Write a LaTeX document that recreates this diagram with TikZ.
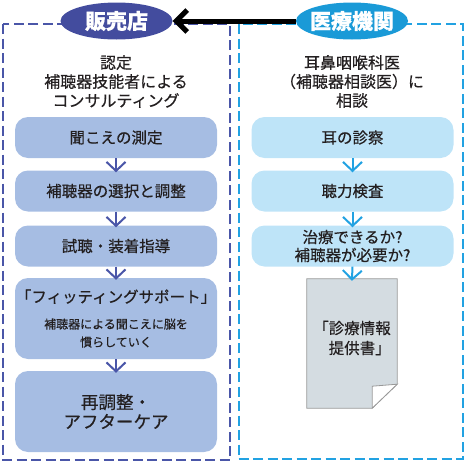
\documentclass[tikz,border=0pt]{standalone}
\usepackage{fontspec}
\setmainfont{Noto Sans CJK JP}[FakeBold=0.5]
\usetikzlibrary{shapes.geometric,arrows.meta}
\definecolor{shopblue}{HTML}{434C9E}
\definecolor{shopline}{HTML}{4A56A8}
\definecolor{shopfill}{HTML}{A6BDE3}
\definecolor{clinicblue}{HTML}{1A9AD7}
\definecolor{clinicline}{HTML}{22A2E2}
\definecolor{clinicfill}{HTML}{BEE4F8}
\definecolor{docfill}{HTML}{D4DCE1}
\definecolor{inktext}{HTML}{231F20}
\newcommand{\smallnote}{\fontsize{12}{15}\selectfont}
\tikzset{
  headnode/.style={ellipse, minimum width=112pt, minimum height=37pt, inner xsep=-3pt, inner ysep=0pt,
    text=white, font=\fontsize{21}{24}\selectfont\bfseries},
  boxframe/.style={line width=2pt, dash pattern=on 10pt off 4.5pt},
  stepbox/.style={rounded corners=13pt, minimum width=202pt, minimum height=41pt, inner sep=0pt,
    text=inktext, align=center, font=\fontsize{15.5}{18}\selectfont},
  notetext/.style={text=inktext, align=center, font=\fontsize{16}{19}\selectfont},
  flowarrow/.style={line width=2pt, shorten >=-2pt, -{Straight Barb[length=9pt,width=19pt]}},
}
\begin{document}
\begin{tikzpicture}[x=1pt,y=-1pt]
  \useasboundingbox (0,0) rectangle (467,461);

  % frames
  \draw[boxframe, shopline] (3,24) rectangle (230,460);
  \draw[boxframe, clinicline] (238.5,24) rectangle (463,459);

  \node[headnode, fill=shopblue] (shop) at (116.5,21) {販売店};
  \node[headnode, fill=clinicblue] (clinic) at (352,21) {医療機関};
  \draw[line width=5pt, -{Straight Barb[length=11pt,width=22pt]}] (clinic.west) -- (shop.east);

  \node[notetext] (shopnote) at (116,81.5) {認定\\補聴器技能者による\\コンサルティング};
  \node[notetext] (clinicnote) at (352,81.5) {耳鼻咽喉科医\\（補聴器相談医）に\\相談};

  % left column
  \node[stepbox, fill=shopfill] (s1) at (116,137.5) {聞こえの測定};
  \node[stepbox, fill=shopfill] (s2) at (116,191) {補聴器の選択と調整};
  \node[stepbox, fill=shopfill] (s3) at (116,246) {試聴・装着指導};
  \node[stepbox, fill=shopfill, minimum height=81pt] (s4) at (116,318.5)
    {「フィッティングサポート」\\[8pt]\smallnote 補聴器による聞こえに脳を\\\smallnote 慣らしていく};
  \node[stepbox, fill=shopfill, minimum height=81pt, font=\fontsize{17.5}{19.5}\selectfont] (s5) at (116,411.5)
    {再調整・\\アフターケア};
  \foreach \a/\b in {s1/s2, s2/s3, s3/s4, s4/s5}
    \draw[flowarrow, shopline] (\a.south) -- (\b.north);

  % right column
  \node[stepbox, fill=clinicfill] (c1) at (352.5,137.5) {耳の診察};
  \node[stepbox, fill=clinicfill] (c2) at (352.5,191) {聴力検査};
  \node[stepbox, fill=clinicfill] (c3) at (352.5,246) {治療できるか?\\補聴器が必要か?};
  \node[minimum width=90pt, minimum height=129pt, inner sep=0pt] (doc) at (352,343.5) {};
  \filldraw[fill=docfill, draw=black!40, line width=0.8pt] (doc.north west) -- (doc.north east)
    -- ([yshift=24pt]doc.south east) -- ([xshift=-25pt]doc.south east) -- (doc.south west) -- cycle;
  \filldraw[fill=white, draw=black!40, line width=0.8pt] ([xshift=-25pt]doc.south east)
    -- ([xshift=-25pt,yshift=22pt]doc.south east) .. controls ([xshift=-12pt,yshift=23pt]doc.south east)
    .. ([yshift=24pt]doc.south east) -- cycle;
  \node[notetext, align=left, font=\fontsize{15.5}{20}\selectfont] (doctext) at ([yshift=5.5pt]doc.center)
    {「診療情報\\\hspace*{1em}提供書」};
  \foreach \a/\b in {c1/c2, c2/c3, c3/doc}
    \draw[flowarrow, clinicline] (\a.south) -- (\b.north);
\end{tikzpicture}
\end{document}
